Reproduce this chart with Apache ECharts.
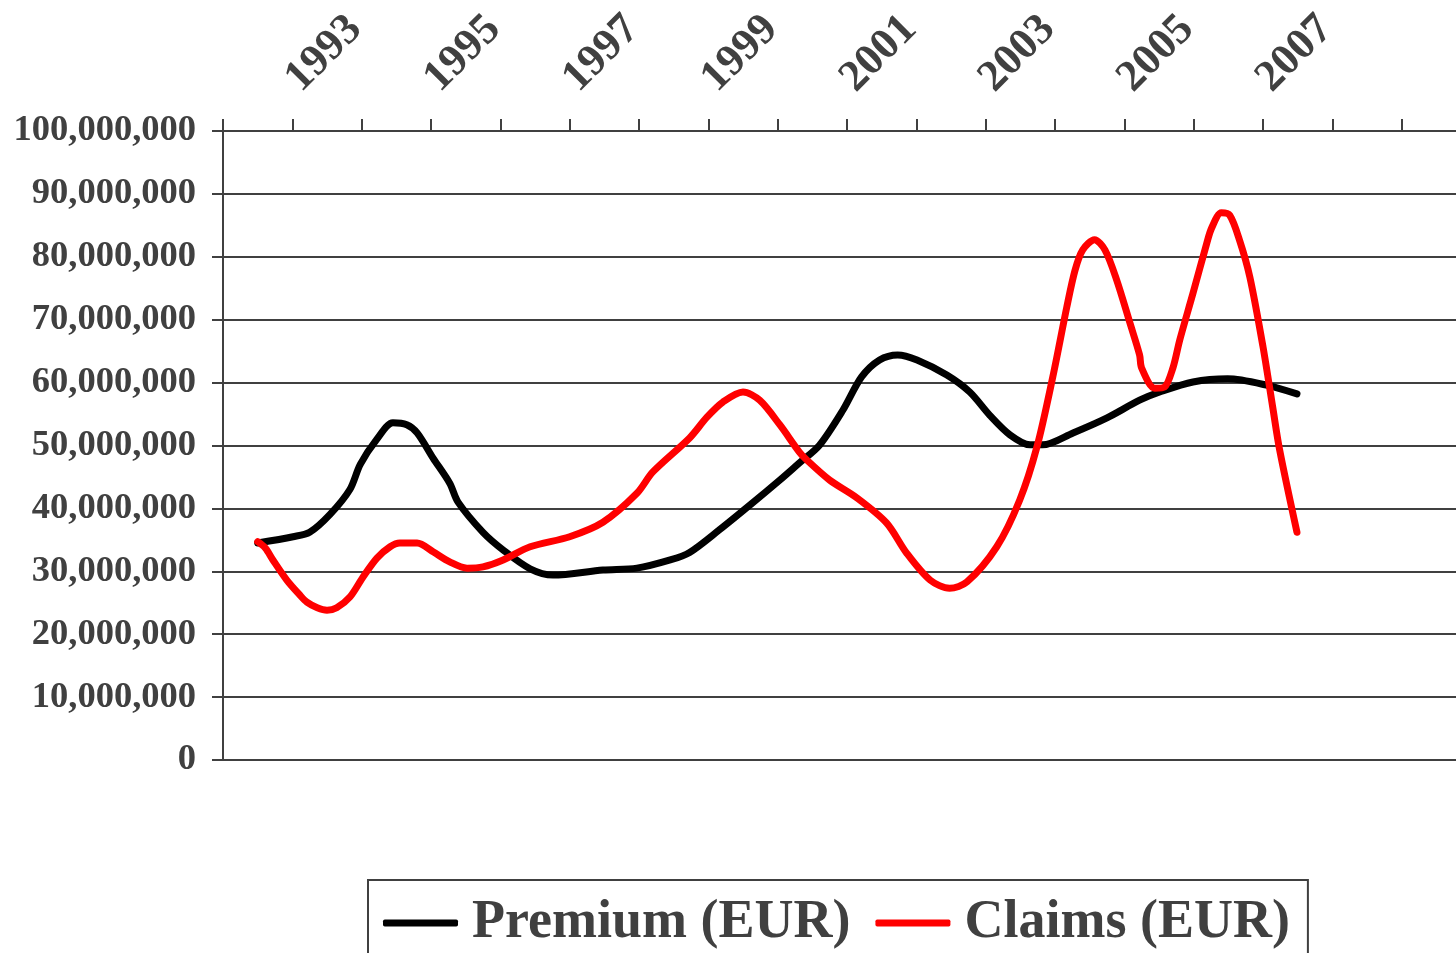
<!DOCTYPE html>
<html lang="en" style="height: 100%">
<head>
  <meta charset="utf-8">
</head>
<body style="height: 100%; margin: 0; background: #fff">
  <div id="container" style="width: 1456px; height: 953px"></div>

  <script type="text/javascript" src="https://fastly.jsdelivr.net/npm/echarts@6.0.0/dist/echarts.min.js"></script>

  <script type="text/javascript">
    // year categories on the top axis (ticks between them, label every 2nd)
    var years = ['1992', '1993', '1994', '1995', '1996', '1997', '1998', '1999', '2000',
      '2001', '2002', '2003', '2004', '2005', '2006', '2007', '2008', '2009'];
    var shownYears = ['1993', '1995', '1997', '1999', '2001', '2003', '2005', '2007'];

    // Premium (EUR), millions
    var premiumX = [1992.00, 1992.51, 1992.75, 1993.04, 1993.33, 1993.48, 1993.72, 1993.95,
      1994.15, 1994.30, 1994.53, 1994.77, 1994.89, 1995.25, 1995.54, 1995.93, 1996.26,
      1996.98, 1997.47, 1997.95, 1998.23, 1998.66, 1999.14, 1999.53, 1999.81, 2000.10,
      2000.44, 2000.71, 2000.97, 2001.23, 2001.51, 2001.94, 2002.27, 2002.56, 2002.85,
      2003.14, 2003.32, 2003.76, 2004.25, 2004.72, 2005.01, 2005.49, 2005.99, 2006.55, 2006.99];
    var premiumY = [34.5, 35.5, 36.2, 39.0, 43.0, 47.0, 51.0, 53.6,
      53.3, 52.0, 48.0, 44.0, 41.0, 36.2, 33.4, 30.4, 29.4,
      30.2, 30.5, 31.8, 33.0, 36.6, 40.9, 44.5, 47.2, 50.0,
      55.6, 60.9, 63.6, 64.4, 63.6, 61.2, 58.5, 54.8, 51.7,
      50.1, 50.1, 52.0, 54.4, 57.2, 58.5, 60.1, 60.6, 59.6, 58.2];

    // Claims (EUR), millions
    var claimsX = [1992.00, 1992.11, 1992.22, 1992.42, 1992.61, 1992.71, 1992.86, 1993.00,
      1993.14, 1993.33, 1993.52, 1993.72, 1993.91, 1994.05, 1994.30, 1994.53, 1994.77,
      1995.02, 1995.25, 1995.54, 1995.93, 1996.50, 1996.98, 1997.47, 1997.70, 1998.23,
      1998.48, 1998.71, 1999.00, 1999.24, 1999.53, 1999.81, 1999.92, 2000.25, 2000.64,
      2001.07, 2001.36, 2001.70, 2001.98, 2002.23, 2002.66, 2002.99, 2003.24, 2003.47,
      2003.67, 2003.79, 2003.90, 2004.07, 2004.22, 2004.39, 2004.58, 2004.72, 2004.75,
      2004.94, 2005.08, 2005.20, 2005.30, 2005.49, 2005.69, 2005.76, 2005.90, 2006.02,
      2006.16, 2006.31, 2006.50, 2006.64, 2006.74, 2006.99];
    var claimsY = [34.7, 33.7, 31.8, 28.6, 26.2, 25.1, 24.2, 23.8,
      24.2, 25.9, 29.1, 32.1, 33.9, 34.5, 34.5, 33.1, 31.5,
      30.5, 30.7, 31.8, 33.9, 35.5, 37.8, 42.4, 45.8, 51.2,
      54.5, 56.9, 58.5, 57.2, 53.3, 49.0, 47.7, 44.5, 41.7,
      37.7, 32.9, 28.6, 27.3, 28.3, 33.9, 41.3, 49.8, 61.0,
      72.0, 77.9, 81.1, 82.7, 81.1, 76.3, 69.5, 64.4, 62.3,
      59.1, 59.3, 62.3, 66.8, 74.2, 82.2, 84.6, 87.0, 86.6,
      82.7, 76.8, 65.7, 56.1, 49.3, 36.2];

    function pairs(xs, ys) {
      return xs.map(function (x, i) { return [x, ys[i] * 1e6]; });
    }

    var dom = document.getElementById('container');
    var myChart = echarts.init(dom, null, { renderer: 'canvas' });

    var axisColor = '#404040';
    var font = '"Liberation Serif", "Times New Roman", serif';

    var option = {
      animation: false,
      backgroundColor: '#ffffff',
      grid: {
        left: 223,
        top: 131,
        width: 1248,
        height: 629,
        containLabel: false,
        outerBoundsMode: 'none'
      },
      xAxis: [
        {
          type: 'category',
          position: 'top',
          data: years,
          boundaryGap: true,
          axisLine: { show: true, onZero: false, lineStyle: { color: axisColor, width: 2 } },
          axisTick: { show: true, interval: 0, length: 12, lineStyle: { color: axisColor, width: 2 } },
          axisLabel: {
            interval: function (idx, val) { return shownYears.indexOf(val) >= 0; },
            rotate: -45,
            margin: 80,
            align: 'center',
            verticalAlign: 'middle',
            padding: [0, 8, 8, 0],
            color: axisColor,
            fontFamily: font,
            fontWeight: 'bold',
            fontSize: 44
          },
          splitLine: { show: false }
        },
        {
          type: 'value',
          min: 1991.5,
          max: 2009.5,
          show: false
        }
      ],
      yAxis: {
        type: 'value',
        min: 0,
        max: 100000000,
        interval: 10000000,
        axisLine: { show: true, lineStyle: { color: axisColor, width: 2 } },
        axisTick: { show: true, length: 11, lineStyle: { color: axisColor, width: 2 } },
        axisLabel: {
          margin: 27,
          color: axisColor,
          fontFamily: font,
          fontWeight: 'bold',
          fontSize: 36.5,
          formatter: function (v) { return v.toLocaleString('en-US'); }
        },
        splitLine: { show: true, lineStyle: { color: axisColor, width: 2 } }
      },
      legend: {
        left: 368,
        top: 880,
        padding: [16, 18, 10, 15],
        itemGap: 25,
        itemWidth: 75,
        itemHeight: 7,
        icon: 'roundRect',
        borderColor: axisColor,
        borderWidth: 2,
        textStyle: {
          color: axisColor,
          fontFamily: font,
          fontWeight: 'bold',
          fontSize: 54,
          padding: [0, 0, 0, 9]
        },
        data: ['Premium (EUR)', 'Claims (EUR)']
      },
      series: [
        {
          name: 'Premium (EUR)',
          type: 'line',
          xAxisIndex: 1,
          smooth: 0.3,
          showSymbol: false,
          symbol: 'none',
          color: '#000000',
          lineStyle: { color: '#000000', width: 7, cap: 'round', join: 'round' },
          data: pairs(premiumX, premiumY)
        },
        {
          name: 'Claims (EUR)',
          type: 'line',
          xAxisIndex: 1,
          smooth: 0.3,
          showSymbol: false,
          symbol: 'none',
          color: '#ff0000',
          lineStyle: { color: '#ff0000', width: 7, cap: 'round', join: 'round' },
          data: pairs(claimsX, claimsY)
        }
      ]
    };

    myChart.setOption(option);
    window.addEventListener('resize', myChart.resize);
  </script>
</body>
</html>
